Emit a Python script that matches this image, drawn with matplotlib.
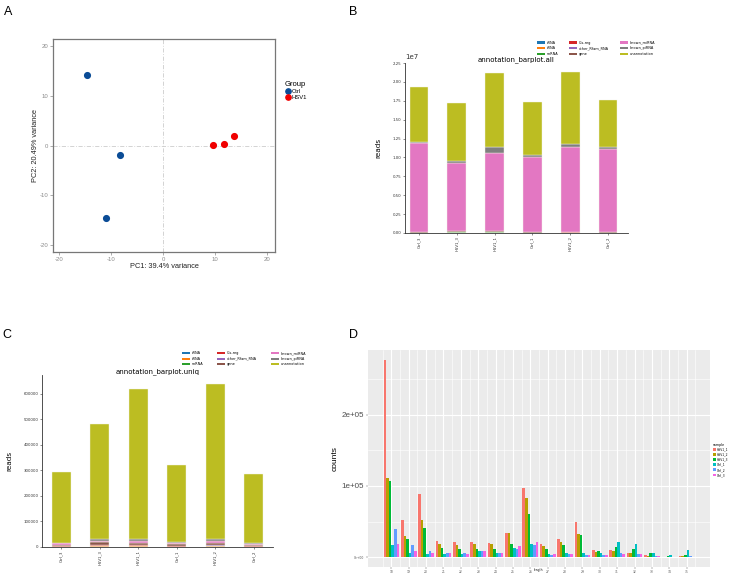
import matplotlib
matplotlib.use("Agg")
import matplotlib.pyplot as plt
import numpy as np
from matplotlib.patches import Patch
from matplotlib.lines import Line2D

W, H = 729, 573

# ---------------- Data ----------------
# Panel A: PCA
pca_ctrl_x = [-14.6, -8.3, -11.0]
pca_ctrl_y = [14.2, -2.0, -14.6]
pca_hsv_x = [9.5, 11.6, 13.6]
pca_hsv_y = [0.1, 0.3, 2.0]

# Panels B & C: annotation stacked bars
bar_samples = ["Ctrl_3", "HSV1_3", "HSV1_1", "Ctrl_1", "HSV1_2", "Ctrl_2"]
anno_classes = ["rRNA", "tRNA", "snRNA", "Cis-reg", "other_Rfam_RNA", "gene",
                "known_miRNA", "known_piRNA", "unannotation"]
anno_colors = ["#1f77b4", "#ff7f0e", "#2ca02c", "#d62728", "#9467bd", "#8c564b",
               "#e377c2", "#7f7f7f", "#bcbd22"]

all_rRNA = [20000, 40000, 40000, 20000, 30000, 20000]
all_tRNA = [10000, 20000, 20000, 10000, 15000, 10000]
all_snRNA = [5000, 10000, 10000, 5000, 8000, 5000]
all_cisreg = [10000, 30000, 30000, 15000, 25000, 10000]
all_other = [10000, 20000, 20000, 10000, 20000, 10000]
all_gene = [30000, 80000, 80000, 40000, 60000, 30000]
all_miRNA = [11825000, 9020000, 10430000, 9960000, 11180000, 11075000]
all_piRNA = [90000, 350000, 800000, 220000, 480000, 180000]
all_unanno = [7280000, 7680000, 9750000, 7100000, 9530000, 6220000]

uniq_rRNA = [800, 1500, 1500, 900, 1400, 700]
uniq_tRNA = [400, 800, 800, 500, 700, 400]
uniq_snRNA = [300, 600, 600, 300, 600, 300]
uniq_cisreg = [1500, 3500, 3000, 2000, 3000, 1500]
uniq_other = [1200, 2500, 2500, 1500, 2500, 1200]
uniq_gene = [4500, 9000, 8500, 5000, 8500, 4000]
uniq_miRNA = [5000, 6500, 7000, 6000, 7000, 5000]
uniq_piRNA = [2000, 7000, 7500, 2500, 7000, 2000]
uniq_unanno = [279300, 449600, 587600, 302300, 608300, 270900]

# Panel D: length distribution
lengths = list(range(18, 36))
len_samples = ["HSV1_1", "HSV1_2", "HSV1_3", "Ctrl_1", "Ctrl_2", "Ctrl_3"]
len_colors = ["#F8766D", "#B79F00", "#00BA38", "#00BFC4", "#619CFF", "#F564E3"]
cnt_HSV1_1 = [277000, 52000, 88500, 23000, 21000, 21000, 20000, 34000, 97000,
              18000, 26000, 49000, 10000, 10000, 6000, 3000, 500, 1000]
cnt_HSV1_2 = [111000, 30000, 52000, 18000, 17000, 18000, 18000, 34000, 83000,
              15500, 21000, 32500, 7500, 9000, 6000, 2000, 500, 1000]
cnt_HSV1_3 = [107000, 26000, 41000, 13000, 12000, 11000, 11000, 18000, 61000,
              11000, 17000, 30500, 8500, 14000, 11000, 5500, 1500, 3000]
cnt_Ctrl_1 = [17000, 6000, 4000, 4000, 4000, 8000, 6500, 13000, 18000,
              4000, 6500, 5500, 6500, 21000, 19000, 6500, 3000, 10000]
cnt_Ctrl_2 = [40000, 17000, 8500, 6500, 6500, 8000, 6500, 12000, 17000,
              3000, 4000, 2500, 3000, 5500, 4000, 1000, 500, 1500]
cnt_Ctrl_3 = [18000, 8500, 6000, 5500, 4500, 8000, 6500, 15500, 21000,
              4000, 4000, 2500, 2500, 5000, 4000, 1000, 500, 500]


def rect(x0, y0, x1, y1):
    return [x0 / W, 1 - y1 / H, (x1 - x0) / W, (y1 - y0) / H]


fig = plt.figure(figsize=(W / 100, H / 100), dpi=100)
fig.patch.set_facecolor("white")
RF = "Liberation Sans"

# panel letters
for lab, (px, py) in {"A": (4, 12), "B": (349, 12), "C": (2, 335), "D": (349, 335)}.items():
    fig.text(px / W, 1 - py / H, lab, fontsize=9, family=RF, va="center", ha="left")

# ---------------- Panel A ----------------
axA = fig.add_axes(rect(53, 39, 275, 252))
axA.axvline(0, color="#cccccc", lw=0.6, ls=(0, (5, 2, 1, 2)), zorder=0)
axA.axhline(0, color="#cccccc", lw=0.6, ls=(0, (5, 2, 1, 2)), zorder=0)
axA.scatter(pca_ctrl_x, pca_ctrl_y, s=17, color="#0B4C96", label="Ctrl", zorder=3)
axA.scatter(pca_hsv_x, pca_hsv_y, s=17, color="#F00000", label="HSV1", zorder=3)
axA.set_xlim(-21.2, 21.5)
axA.set_ylim(-21.5, 21.5)
axA.set_xticks([-20, -10, 0, 10, 20])
axA.set_yticks([-20, -10, 0, 10, 20])
axA.set_xticklabels(["-20", "-10", "0", "10", "20"])
axA.set_yticklabels(["-20", "-10", "0", "10", "20"])
axA.tick_params(labelsize=4.3, colors="#8a8a8a", length=2, width=0.5, pad=1.5)
for t in axA.get_xticklabels() + axA.get_yticklabels():
    t.set_family(RF)
for s in axA.spines.values():
    s.set_color("#777777")
    s.set_linewidth(0.9)
axA.set_xlabel("PC1: 39.4% variance", fontsize=5.3, family=RF, labelpad=1, color="#222222")
axA.set_ylabel("PC2: 20.49% variance", fontsize=5.3, family=RF, labelpad=0, color="#222222")
legA = fig.legend(handles=[Line2D([], [], marker="o", ls="", color="#0B4C96", markersize=3.8, label="Ctrl"),
                           Line2D([], [], marker="o", ls="", color="#F00000", markersize=3.8, label="HSV1")],
                  loc="upper left", bbox_to_anchor=(282 / W, 1 - 78 / H), frameon=False,
                  title="Group", fontsize=4.2, title_fontsize=5.5, handletextpad=0.1,
                  handlelength=1.0, labelspacing=0.2, borderpad=0)
legA._legend_box.align = "left"
for t in legA.get_texts():
    t.set_family(RF)
legA.get_title().set_family(RF)


# ---------------- Stacked bar helper ----------------
def stacked(ax, series, xlim, ylim, yticks, title, leg_anchor, colspacing):
    x = np.arange(len(bar_samples))
    bottom = np.zeros(len(bar_samples))
    handles = []
    for vals, col, name in zip(series, anno_colors, anno_classes):
        v = np.array(vals, dtype=float)
        ax.bar(x, v, width=0.5, bottom=bottom, color=col, edgecolor="#f4f4e8", linewidth=0.3)
        bottom += v
        handles.append(Patch(facecolor=col, label=name))
    ax.set_xlim(*xlim)
    ax.set_ylim(*ylim)
    ax.set_yticks(yticks)
    ax.set_xticks(x)
    ax.set_xticklabels(bar_samples, rotation=90)
    ax.tick_params(labelsize=2.8, length=1.5, width=0.4, pad=1, colors="#333333")
    for side in ["top", "right"]:
        ax.spines[side].set_visible(False)
    for side in ["left", "bottom"]:
        ax.spines[side].set_linewidth(0.6)
        ax.spines[side].set_color("#333333")
    ax.set_title(title, fontsize=5, pad=1.5)
    ax.set_ylabel("reads", fontsize=5.2, labelpad=8)
    fig.legend(handles=handles, loc="upper left", bbox_to_anchor=leg_anchor, ncol=3,
               frameon=False, fontsize=2.5, handlelength=2.3, handleheight=0.55,
               labelspacing=0.45, columnspacing=colspacing, handletextpad=0.5, borderpad=0)


# ---------------- Panel B ----------------
axB = fig.add_axes(rect(405, 63, 628, 233))
seriesB = [all_rRNA, all_tRNA, all_snRNA, all_cisreg, all_other, all_gene,
           all_miRNA, all_piRNA, all_unanno]
stacked(axB, seriesB, (-0.37, 5.53), (0, 2.25e7), np.arange(0, 2.26e7, 0.25e7),
        "annotation_barplot.all", (535 / W, 1 - 39 / H), 3.2)
axB.yaxis.get_offset_text().set_fontsize(5)

# ---------------- Panel C ----------------
axC = fig.add_axes(rect(42, 375, 273, 547))
seriesC = [uniq_rRNA, uniq_tRNA, uniq_snRNA, uniq_cisreg, uniq_other, uniq_gene,
           uniq_miRNA, uniq_piRNA, uniq_unanno]
stacked(axC, seriesC, (-0.5, 5.5), (0, 673000), np.arange(0, 600001, 100000),
        "annotation_barplot.uniq", (180 / W, 1 - 349.5 / H), 4.0)
axC.yaxis.set_major_formatter(matplotlib.ticker.FuncFormatter(lambda v, p: f"{int(v)}"))

# ---------------- Panel D ----------------
axD = fig.add_axes(rect(368, 350, 710, 567))
axD.set_facecolor("#EBEBEB")
series_D = [cnt_HSV1_1, cnt_HSV1_2, cnt_HSV1_3, cnt_Ctrl_1, cnt_Ctrl_2, cnt_Ctrl_3]
bw = 0.9 / len(series_D)
L = np.array(lengths, dtype=float)
for i, (vals, col, name) in enumerate(zip(series_D, len_colors, len_samples)):
    axD.bar(L - 0.45 + bw * (i + 0.5), vals, width=bw, color=col, label=name, zorder=2)
ymax = max(max(s) for s in series_D)
axD.set_xlim(17.55 - 0.895, 35.45 + 0.895)
axD.set_ylim(-0.05 * ymax, 1.05 * ymax)
axD.set_xticks(lengths)
axD.set_xticks(np.arange(17.5, 36.0, 1.0), minor=True)
axD.set_yticks([0, 100000, 200000])
axD.set_yticks([50000, 150000, 250000], minor=True)
axD.grid(which="major", color="white", lw=0.8, zorder=0)
axD.grid(which="minor", color="white", lw=0.4, zorder=0)
axD.set_axisbelow(True)
for s in axD.spines.values():
    s.set_visible(False)
axD.set_xticklabels([str(v) for v in lengths])
axD.tick_params(axis="x", labelsize=2.2, length=1.2, width=0.3, pad=0.8, colors="#555555")
axD.tick_params(axis="y", length=1.2, width=0.3, pad=1.5, colors="#555555")
axD.tick_params(which="minor", length=0)
axD.set_yticklabels(["0e+00", "1e+05", "2e+05"])
ylabs = axD.get_yticklabels()
ylabs[0].set_fontsize(2.2)
for t in ylabs[1:]:
    t.set_fontsize(5.8)
    t.set_family(RF)
    t.set_color("#4D4D4D")
fig.text(538 / W, 1 - 570.5 / H, "length", fontsize=2.2, ha="center", va="center")
axD.set_ylabel("counts", fontsize=6, family=RF, labelpad=2)
legD = fig.legend(handles=[Patch(facecolor=c, label=n) for c, n in zip(len_colors, len_samples)],
                  loc="upper left", bbox_to_anchor=(711 / W, 1 - 441 / H), frameon=False,
                  title="sample", fontsize=2.2, title_fontsize=2.4, handlelength=1.0,
                  handleheight=1.0, labelspacing=0.35, handletextpad=0.4, borderpad=0)
legD._legend_box.align = "left"

fig.savefig("out.png", dpi=100)
